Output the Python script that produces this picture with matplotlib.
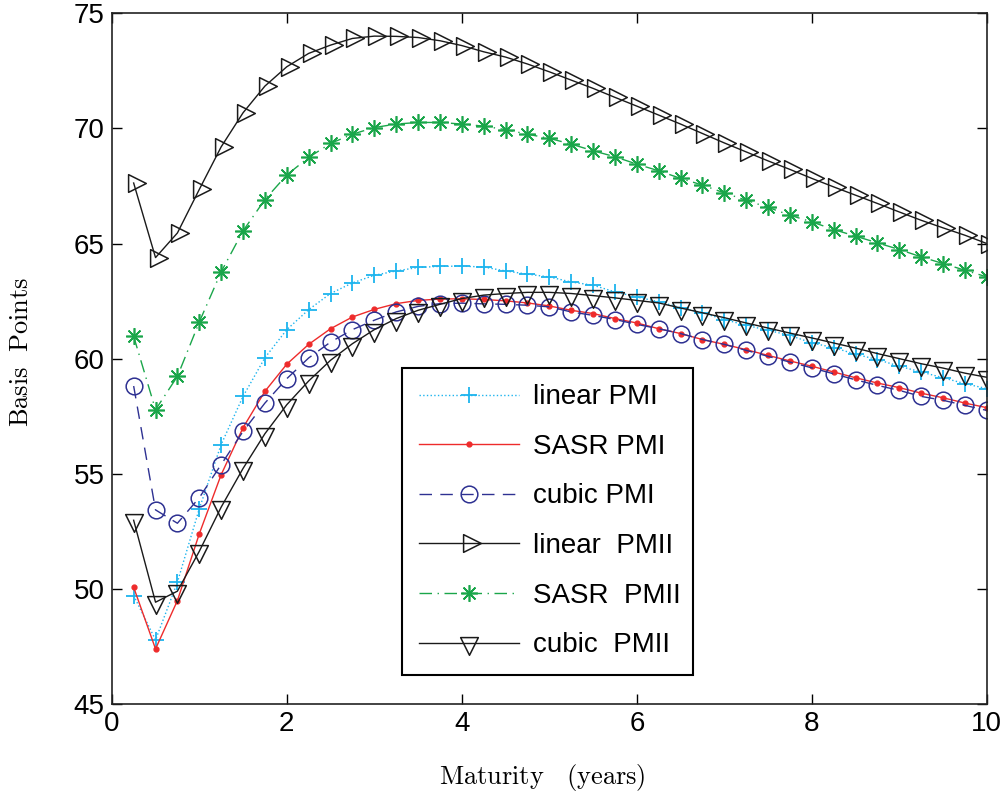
import matplotlib
matplotlib.use("Agg")
import matplotlib.pyplot as plt
import numpy as np
from matplotlib.path import Path

maturity = [0.25 * (i + 1) for i in range(40)]

linear_pmi = [49.71, 47.78, 50.29, 53.48, 56.27, 58.36, 60.04, 61.26, 62.13, 62.83,
              63.29, 63.62, 63.81, 63.96, 64.01, 64.02, 63.98, 63.81, 63.67, 63.55,
              63.33, 63.19, 62.90, 62.68, 62.47, 62.22, 61.99, 61.70, 61.45, 61.23,
              61.01, 60.68, 60.48, 60.19, 59.96, 59.67, 59.42, 59.17, 58.91, 58.70]

sasr_pmi = [50.07, 47.39, 49.49, 52.39, 54.96, 57.00, 58.58, 59.76, 60.62, 61.30,
            61.81, 62.14, 62.39, 62.53, 62.59, 62.60, 62.57, 62.51, 62.42, 62.29,
            62.10, 61.96, 61.74, 61.55, 61.30, 61.09, 60.83, 60.62, 60.39, 60.14,
            59.90, 59.67, 59.42, 59.17, 58.94, 58.74, 58.50, 58.30, 58.07, 57.87]

cubic_pmi = [58.81, 53.43, 52.85, 53.96, 55.40, 56.84, 58.07, 59.13, 60.03, 60.72,
             61.26, 61.67, 62.03, 62.27, 62.39, 62.41, 62.38, 62.36, 62.32, 62.25,
             62.03, 61.88, 61.70, 61.49, 61.30, 61.09, 60.83, 60.62, 60.36, 60.10,
             59.85, 59.60, 59.34, 59.08, 58.84, 58.62, 58.36, 58.19, 57.97, 57.75]

linear_pmii = [67.63, 64.39, 65.46, 67.35, 69.20, 70.68, 71.84, 72.68, 73.26, 73.62,
               73.91, 74.01, 74.00, 73.95, 73.81, 73.60, 73.33, 73.10, 72.80, 72.46,
               72.10, 71.74, 71.35, 70.97, 70.58, 70.19, 69.78, 69.37, 68.98, 68.59,
               68.22, 67.83, 67.46, 67.10, 66.74, 66.37, 66.01, 65.68, 65.36, 65.00]

sasr_pmii = [60.97, 57.78, 59.23, 61.59, 63.77, 65.55, 66.91, 67.98, 68.74, 69.35,
             69.75, 70.04, 70.19, 70.26, 70.26, 70.19, 70.10, 69.95, 69.75, 69.57,
             69.32, 69.03, 68.77, 68.45, 68.16, 67.83, 67.54, 67.20, 66.88, 66.57,
             66.23, 65.94, 65.61, 65.32, 65.03, 64.74, 64.42, 64.13, 63.84, 63.55]

cubic_pmii = [52.98, 49.42, 49.90, 51.63, 53.55, 55.23, 56.74, 58.00, 59.03, 59.93,
              60.65, 61.26, 61.74, 62.10, 62.36, 62.61, 62.76, 62.83, 62.88, 62.88,
              62.83, 62.74, 62.64, 62.53, 62.42, 62.20, 61.99, 61.78, 61.55, 61.33,
              61.11, 60.90, 60.68, 60.46, 60.22, 60.00, 59.78, 59.59, 59.37, 59.19]

labels = ["linear PMI", "SASR PMI", "cubic PMI", "linear  PMII", "SASR  PMII", "cubic  PMII"]
x_ticks = [0, 2, 4, 6, 8, 10]
y_ticks = [45, 50, 55, 60, 65, 70, 75]

# centroid-centred triangle markers (like MATLAB)
tri_down = Path([(-1, 2/3), (1, 2/3), (0, -4/3), (-1, 2/3)],
                [Path.MOVETO, Path.LINETO, Path.LINETO, Path.CLOSEPOLY])
tri_right = Path([(-2/3, 1), (-2/3, -1), (4/3, 0), (-2/3, 1)],
                 [Path.MOVETO, Path.LINETO, Path.LINETO, Path.CLOSEPOLY])

plt.rcParams['font.family'] = ['Liberation Sans', 'DejaVu Sans']
plt.rcParams['mathtext.fontset'] = 'cm'

fig = plt.figure(figsize=(10.07, 7.94), dpi=100)
ax = fig.add_axes([0.111, 0.1134, 0.869, 0.8698])

c_cyan = '#1DB4EE'
c_red = '#EE2B2B'
c_blue = '#2E3192'
c_green = '#1AA64A'

ax.plot(maturity, linear_pmi, linestyle=':', color=c_cyan, marker='+', markersize=12,
        markeredgewidth=1.3, linewidth=1.0, label=labels[0])
ax.plot(maturity, sasr_pmi, linestyle='-', color=c_red, marker='.', markersize=7,
        linewidth=1.0, label=labels[1])
ax.plot(maturity, cubic_pmi, linestyle=(0, (9, 6)), color=c_blue, marker='o', markersize=12,
        markerfacecolor='none', markeredgewidth=1.1, linewidth=1.0, label=labels[2])
ax.plot(maturity, linear_pmii, linestyle='-', color='#1a1a1a', marker=tri_right, markersize=17,
        markerfacecolor='none', markeredgewidth=1.1, linewidth=1.0, label=labels[3])
ax.plot(maturity, sasr_pmii, linestyle=(0, (9, 4, 1, 4)), color=c_green, marker=(8, 2, 0),
        markersize=12, markeredgewidth=1.2, linewidth=1.0, label=labels[4])
ax.plot(maturity, cubic_pmii, linestyle='-', color='#1a1a1a', marker=tri_down, markersize=17,
        markerfacecolor='none', markeredgewidth=1.1, linewidth=1.0, label=labels[5])

ax.set_xlim(0, 10)
ax.set_ylim(45, 75)
ax.set_xticks(x_ticks)
ax.set_yticks(y_ticks)
ax.tick_params(direction='in', length=7, width=1, labelsize=20, top=True, right=True, pad=5)
for s in ax.spines.values():
    s.set_linewidth(1.2)
    s.set_color('#222222')

ax.set_xlabel(r'$\mathrm{Maturity\ \ \ (years)}$', fontsize=19)
ax.set_ylabel(r'$\mathrm{Basis\ \ Points}$', fontsize=19)
ax.xaxis.set_label_coords(0.492, -0.084)
ax.yaxis.set_label_coords(-0.09, 0.51)

leg = ax.legend(loc='lower left', bbox_to_anchor=(0.3317, 0.042, 0.3323, 0.446), mode='expand',
                borderaxespad=0, fontsize=20, handlelength=3.6, labelspacing=0.85, borderpad=0.6,
                fancybox=False, edgecolor='black', framealpha=1, handletextpad=0.5)
leg.get_frame().set_linewidth(1.5)

fig.savefig('out.png', dpi=100)
